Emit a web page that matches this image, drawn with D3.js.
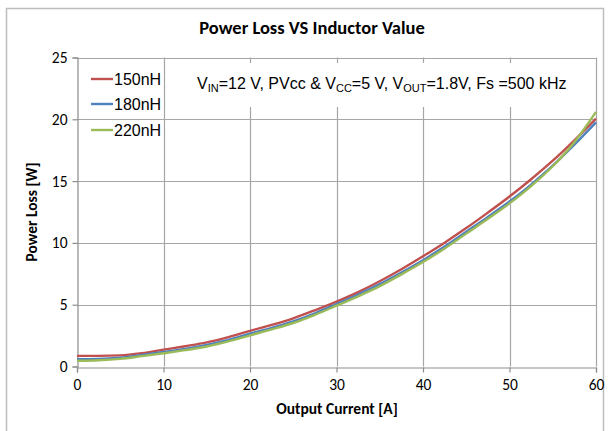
<!DOCTYPE html>
<html><head><meta charset="utf-8">
<script src="https://cdn.jsdelivr.net/npm/d3@7"></script>
<style>body{margin:0;background:#fff}</style>
</head><body>
<svg id="c" width="610" height="431"></svg>
<script>
const current = [0,2.5,5,7.5,10,12.5,15,17.5,20,22.5,25,27.5,30,32.5,35,37.5,40,42.5,45,47.5,50,52.5,55,57.5,60];
const loss150 = [0.86,0.86,0.9,1.08,1.36,1.64,1.95,2.38,2.88,3.36,3.9,4.55,5.25,6.02,6.9,7.87,8.92,10.02,11.2,12.45,13.75,15.15,16.65,18.3,20.05];
const loss180 = [0.6,0.62,0.72,0.93,1.17,1.43,1.74,2.15,2.65,3.13,3.65,4.3,5.05,5.82,6.66,7.6,8.6,9.7,10.9,12.1,13.35,14.72,16.25,17.95,19.75];
const loss220 = [0.46,0.5,0.62,0.84,1.07,1.32,1.62,2.03,2.52,3.0,3.52,4.18,4.92,5.68,6.5,7.45,8.45,9.55,10.75,11.95,13.2,14.6,16.2,18.15,20.6];
const seriesNames = ["150nH","180nH","220nH"];
const seriesColors = ["#C0504D","#4F81BD","#9BBB59"];
const xTicks = [0,10,20,30,40,50,60];
const yTicks = [0,5,10,15,20,25];

const svg = d3.select("#c");
const cal = "Carlito, 'Open Sans', sans-serif";
const ar = "Arial, 'Liberation Sans', sans-serif";
const x = d3.scaleLinear().domain([0,60]).range([77,596]);
const y = d3.scaleLinear().domain([0,25]).range([366.5,57.5]);

svg.append("rect").attr("x",6.5).attr("y",8.5).attr("width",597).attr("height",440)
  .attr("fill","#fff").attr("stroke","#bdbdbd").attr("stroke-width",1.5);

// grid
svg.append("g").selectAll("line").data(xTicks.slice(1)).join("line")
  .attr("x1",d=>Math.round(x(d))+0.5).attr("x2",d=>Math.round(x(d))+0.5)
  .attr("y1",y(25)).attr("y2",y(0)).attr("stroke","#a6a6a6").attr("stroke-width",1.2);
svg.append("g").selectAll("line").data(yTicks.slice(1)).join("line")
  .attr("x1",x(0)).attr("x2",x(60))
  .attr("y1",d=>Math.round(y(d))+0.5).attr("y2",d=>Math.round(y(d))+0.5).attr("stroke","#a6a6a6").attr("stroke-width",1.2);

// axes
const xa = svg.append("g").attr("transform",`translate(0,${Math.round(y(0))+0.5})`)
  .call(d3.axisBottom(x).tickValues(xTicks).tickSize(5).tickPadding(6));
const ya = svg.append("g").attr("transform",`translate(${Math.round(x(0))+0.5},0)`)
  .call(d3.axisLeft(y).tickValues(yTicks).tickSize(5).tickPadding(5));
[xa,ya].forEach(a=>{
  a.select(".domain").attr("stroke","#8c8c8c").attr("stroke-width",1.2);
  a.selectAll(".tick line").attr("stroke","#8c8c8c").attr("stroke-width",1.2);
  a.selectAll("text").attr("font-family",cal).attr("font-size",15.5).attr("fill","#000");
});

// annotation box
svg.append("rect").attr("x",166).attr("y",63).attr("width",428).attr("height",44).attr("fill","#fff");
const ann = svg.append("text").attr("x",197).attr("y",89).attr("font-family",ar).attr("font-size",16).attr("fill","#000");
const parts = [["V",0],["IN",1],["=12 V, PVcc & V",0],["CC",1],["=5 V, V",0],["OUT",1],["=1.8V, Fs =500 kHz",0]];
let prevSub = 0;
parts.forEach(([t,s])=>{
  const ts = ann.append("tspan").text(t);
  if(s){ ts.attr("font-size",11).attr("dy",3); } else if(prevSub){ ts.attr("dy",-3); }
  prevSub = s;
});

// lines
const series = [loss150,loss180,loss220];
const line = d3.line().x((d,i)=>x(current[i])).y(d=>y(d)).curve(d3.curveMonotoneX);
[0,1,2].forEach(k=>{
  svg.append("path").datum(series[k]).attr("d",line).attr("fill","none")
    .attr("stroke",seriesColors[k]).attr("stroke-width",2.4);
});

// legend
const ly = [79,104,130];
seriesNames.forEach((n,i)=>{
  svg.append("line").attr("x1",91).attr("x2",113).attr("y1",ly[i]).attr("y2",ly[i])
    .attr("stroke",seriesColors[i]).attr("stroke-width",2.4);
  svg.append("text").attr("x",114).attr("y",ly[i]+6).attr("font-family",ar).attr("font-size",16).text(n);
});

// titles
svg.append("text").attr("x",312).attr("y",34).attr("text-anchor","middle").attr("font-family",cal)
  .attr("font-weight","bold").attr("font-size",18.5).text("Power Loss VS Inductor Value");
svg.append("text").attr("x",337).attr("y",414).attr("text-anchor","middle").attr("font-family",cal)
  .attr("font-weight","bold").attr("font-size",15.5).text("Output Current [A]");
svg.append("text").attr("transform","translate(37,212) rotate(-90)").attr("text-anchor","middle").attr("font-family",cal)
  .attr("font-weight","bold").attr("font-size",15.5).text("Power Loss [W]");
</script>
</body></html>
